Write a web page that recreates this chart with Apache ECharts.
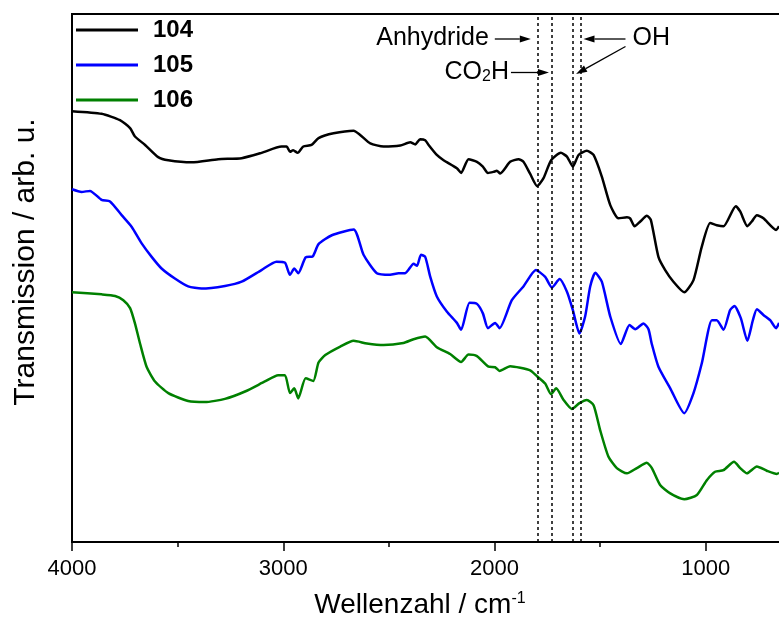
<!DOCTYPE html>
<html>
<head>
<meta charset="utf-8">
<script src="https://cdn.jsdelivr.net/npm/echarts@6/dist/echarts.min.js"></script>
<style>
  html, body { margin: 0; padding: 0; background: #fff; }
  #chart { width: 779px; height: 623px; }
</style>
</head>
<body>
<div id="chart"></div>
<script>
// IR spectra of samples 104-106 (transmission, arbitrary units, offset for clarity)
const wn104 = [4000,3860,3773,3725,3702,3654,3592,3544,3434,3308,3197,3103,3008,2984,2968,2953,2932,2905,2866,2833,2762,2667,2636,2588,2525,2446,2399,2375,2352,2328,2312,2273,2241,2178,2158,2123,2083,2055,2031,2005,1989,1973,1926,1886,1863,1831,1798,1768,1732,1686,1657,1629,1602,1563,1531,1492,1452,1413,1373,1358,1337,1310,1279,1260,1224,1192,1153,1102,1058,1019,979,948,916,858,837,803,782,758,727,667,653];
const tr104 = [81.6,81.1,79.9,78.4,76.8,75.2,72.9,72.3,71.9,72.5,72.7,73.7,74.9,74.9,73.9,74.2,73.7,74.9,75.2,76.5,77.4,77.9,77.1,75.5,74.9,75.1,75.7,75.3,76.3,76.1,75.2,73.3,72.3,70.8,69.9,72.5,72.0,71.1,69.9,70.1,70.3,69.8,72.0,72.5,72.0,69.7,67.4,68.9,72.3,73.7,73.0,71.1,73.3,74.1,73.3,69.2,63.8,61.3,61.5,61.3,59.8,60.7,61.8,61.0,54.0,51.5,49.3,47.3,49.6,55.9,60.4,60.0,59.8,63.6,62.6,59.8,60.7,61.9,61.3,59.1,59.8];

const wn105 = [4000,3955,3915,3860,3820,3765,3718,3671,3623,3576,3513,3450,3387,3276,3197,3103,3032,2992,2968,2948,2929,2894,2860,2833,2770,2667,2620,2557,2494,2454,2423,2383,2367,2348,2328,2304,2273,2225,2178,2158,2118,2083,2055,2031,1997,1976,1918,1863,1804,1760,1728,1692,1657,1629,1598,1571,1547,1523,1492,1452,1402,1361,1334,1295,1271,1256,1224,1168,1102,1058,1019,971,948,916,885,864,834,803,777,758,727,695,667,653];
const tr105 = [66.8,66.3,66.5,64.8,64.5,61.9,59.7,56.6,54.0,51.8,49.9,48.4,48.0,48.5,49.3,51.5,53.1,52.9,50.6,51.8,50.9,53.9,54.1,56.4,58.1,59.2,54.4,50.9,50.6,50.9,50.9,52.7,52.3,54.4,54.0,50.2,46.5,43.6,41.5,40.2,45.3,45.1,43.3,40.5,41.5,40.5,45.8,48.4,51.5,50.2,48.2,49.8,47.4,43.9,39.5,42.7,48.4,51.0,49.3,42.7,37.5,41.1,40.3,41.4,40.3,37.6,33.2,29.1,24.4,28.2,33.8,42.0,42.0,40.2,43.9,44.7,42.4,38.1,42.0,44.1,43.0,42.0,40.5,41.5];

const wn106 = [4000,3860,3796,3757,3725,3702,3678,3647,3607,3544,3450,3371,3276,3181,3087,3024,2992,2968,2948,2929,2894,2858,2833,2801,2730,2667,2604,2525,2431,2383,2328,2273,2210,2158,2123,2083,2028,1997,1976,1926,1878,1831,1799,1760,1732,1708,1673,1634,1598,1563,1531,1500,1461,1421,1373,1326,1279,1255,1216,1168,1102,1042,995,956,916,866,837,805,758,711,663,653];
const tr106 = [47.3,46.9,46.6,45.8,44.3,41.4,37.6,33.2,30.4,28.2,26.7,26.5,27.1,28.5,30.4,31.6,31.6,28.2,29.1,27.2,31.0,30.5,34.0,35.4,37.0,38.1,37.6,37.3,37.7,38.4,38.9,36.9,35.6,34.1,35.5,35.2,33.2,33.1,32.4,33.3,33.0,32.5,31.4,30.0,28.0,29.1,26.9,25.2,26.3,26.9,25.9,21.2,16.2,14.0,13.0,14.0,15.0,14.0,10.8,9.2,8.1,8.9,11.7,13.3,13.6,15.2,14.0,13.0,14.3,13.5,12.9,13.1];

// Band positions marked with dotted guide lines (cm^-1)
const bandLines = [1795, 1728, 1628, 1593];

const sampleNames = ['104', '105', '106'];
const sampleColors = ['#000000', '#0000ff', '#008000'];
const spectra = [[wn104, tr104], [wn105, tr105], [wn106, tr106]];

const FONT = 'Liberation Sans, Arial, sans-serif';

const chart = echarts.init(document.getElementById('chart'), null, { renderer: 'canvas' });

const series = spectra.map(([wn, tr], i) => ({
  name: sampleNames[i],
  type: 'line',
  data: wn.map((w, k) => [w, tr[k]]),
  symbol: 'none',
  showSymbol: false,
  smooth: 0.2,
  lineStyle: { color: sampleColors[i], width: 2.5 },
  itemStyle: { color: sampleColors[i] },
  z: 3
}));

// dotted vertical guides
series.push({
  type: 'line',
  data: [],
  silent: true,
  markLine: {
    silent: true,
    symbol: 'none',
    label: { show: false },
    lineStyle: { color: '#000', width: 1.5, type: [3, 3] },
    data: bandLines.map(v => ({ xAxis: v }))
  }
});

const option = {
  animation: false,
  backgroundColor: '#fff',
  grid: {
    left: 72, top: 14, width: 845, height: 528,
    outerBoundsMode: 'none',
    containLabel: false,
    show: true, borderColor: '#000', borderWidth: 2, backgroundColor: 'transparent'
  },
  legend: {
    data: sampleNames,
    orient: 'vertical',
    left: 71, top: 12,
    icon: 'rect',
    itemWidth: 62, itemHeight: 3, itemGap: 9,
    textStyle: { fontFamily: FONT, fontSize: 24, lineHeight: 26, fontWeight: 'bold', color: '#000', padding: [0, 0, 0, 10] }
  },
  xAxis: {
    type: 'value',
    inverse: true,
    min: 0, max: 4000, interval: 1000,
    axisLine: { lineStyle: { color: '#000', width: 2 } },
    axisTick: { inside: false, length: 9, lineStyle: { color: '#000', width: 1.5 } },
    minorTick: { show: true, splitNumber: 2, length: 5, lineStyle: { color: '#000', width: 1.5 } },
    axisLabel: { fontFamily: FONT, fontSize: 22, color: '#000', margin: 16, formatter: v => String(v) },
    splitLine: { show: false }
  },
  yAxis: {
    type: 'value',
    min: 0, max: 100,
    axisLine: { show: true, lineStyle: { color: '#000', width: 2 } },
    axisTick: { show: false },
    axisLabel: { show: false },
    splitLine: { show: false }
  },
  series
};

chart.setOption(option);

// Axis titles and annotation labels with arrows pointing at the guide lines
function px(w) { return chart.convertToPixel({ xAxisIndex: 0 }, w); }
function arrow(x1, y1, x2, y2) {
  const len = 11, half = 3.5;
  const dx = x2 - x1, dy = y2 - y1, d = Math.hypot(dx, dy);
  const ux = dx / d, uy = dy / d;
  const bx = x2 - ux * len, by = y2 - uy * len;
  return [
    { type: 'line', silent: true, z: 10,
      shape: { x1, y1, x2: bx, y2: by },
      style: { stroke: '#000', lineWidth: 1.3 } },
    { type: 'polygon', silent: true, z: 10,
      shape: { points: [[x2, y2], [bx - uy * half, by + ux * half], [bx + uy * half, by - ux * half]] },
      style: { fill: '#000' } }
  ];
}
const xA = px(bandLines[0]), xC = px(bandLines[1]), xO1 = px(bandLines[2]), xO2 = px(bandLines[3]);
const textStyle = { fontFamily: FONT, fontSize: 25, fill: '#000' };
const graphic = [
  { type: 'text', silent: true, z: 10, x: 420, y: 605,
    style: {
      text: 'Wellenzahl / cm{sup|-1}', align: 'center', verticalAlign: 'middle',
      fontFamily: FONT, fontSize: 28, fill: '#000',
      rich: { sup: { fontFamily: FONT, fontSize: 16, fill: '#000', verticalAlign: 'top', lineHeight: 16 } }
    } },
  { type: 'text', silent: true, z: 10, x: 26, y: 262, rotation: Math.PI / 2,
    style: { text: 'Transmission / arb. u.', align: 'center', verticalAlign: 'middle',
      fontFamily: FONT, fontSize: 30, fill: '#000' } },
  { type: 'text', silent: true, z: 10, x: xA - 49, y: 38,
    style: Object.assign({ text: 'Anhydride', align: 'right', verticalAlign: 'middle' }, textStyle) },
  ...arrow(xA - 43, 39, xA - 7, 39),
  { type: 'text', silent: true, z: 10, x: xC - 43, y: 72,
    style: Object.assign({
      text: 'CO{sub|2}H', align: 'right', verticalAlign: 'middle',
      rich: { sub: { fontFamily: FONT, fontSize: 16, fill: '#000', verticalAlign: 'bottom', lineHeight: 16, padding: [12, 0, 0, 0] } }
    }, textStyle) },
  ...arrow(xC - 41, 72.5, xC - 3, 72.5),
  { type: 'text', silent: true, z: 10, x: xO2 + 52, y: 38,
    style: Object.assign({ text: 'OH', align: 'left', verticalAlign: 'middle' }, textStyle) },
  ...arrow(xO2 + 45, 39, xO2 + 3, 39),
  ...arrow(xO2 + 45, 46.5, xO1 + 3, 74)
];
chart.setOption({ graphic });
</script>
</body>
</html>
